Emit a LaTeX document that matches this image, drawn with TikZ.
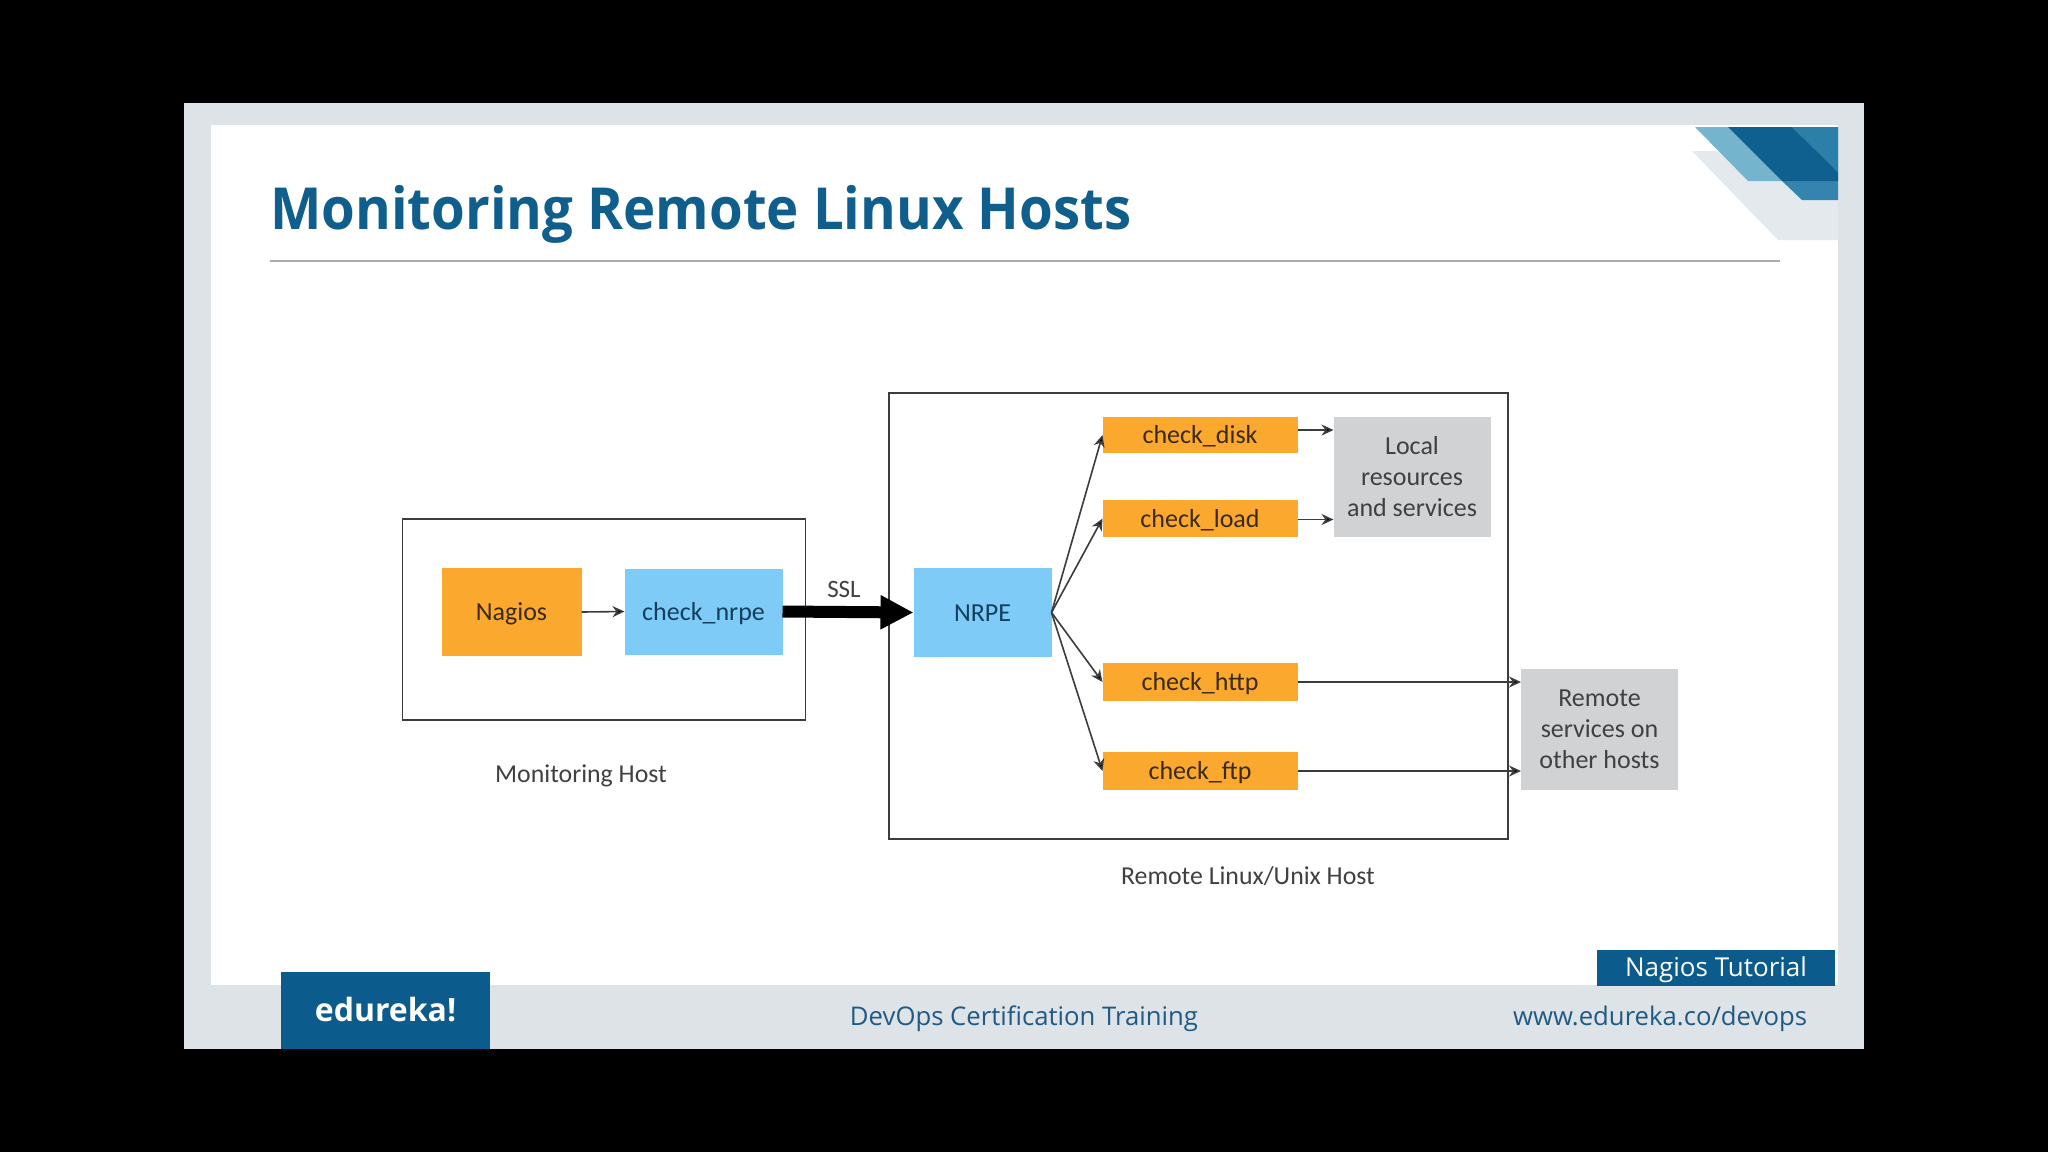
\documentclass[tikz,border=0pt]{standalone}
\usepackage{fontspec}
\setmainfont{Carlito}
\newfontfamily\headfont{Open Sans}
\usetikzlibrary{arrows.meta}
\definecolor{frameC}{HTML}{DDE3E6}
\definecolor{navy}{HTML}{0B5B8C}
\definecolor{titleC}{HTML}{0F5E8C}
\definecolor{orangeB}{HTML}{FBA82F}
\definecolor{blueB}{HTML}{7FCBF7}
\definecolor{greyB}{HTML}{D0D2D4}
\definecolor{lineC}{HTML}{3C3C3C}
\definecolor{footC}{HTML}{1F5A84}
\definecolor{ruleC}{HTML}{ABABAB}
\definecolor{cornA}{HTML}{E4E9EE}
\definecolor{cornB}{HTML}{74B4CC}
\definecolor{cornC}{HTML}{3584B0}
\definecolor{cornD}{HTML}{10608F}
\definecolor{cornE}{HTML}{2C7FA8}
\definecolor{orangeT}{HTML}{3A2A12}
\definecolor{blueT}{HTML}{123F5F}
\tikzset{
  blk/.style={rectangle,inner sep=0pt,outer sep=0pt,align=center,font=\fontsize{13}{15.5}\selectfont},
  one line/.style={text height=8.5pt,text depth=0pt},
  orange box/.style={blk,one line,fill=orangeB,text=orangeT,minimum width=97.5pt},
  blue box/.style={blk,one line,fill=blueB,text=blueT},
  grey box/.style={blk,fill=greyB,text=black!75,minimum width=78.5pt},
  host/.style={rectangle,draw=lineC,line width=0.9pt,inner sep=0pt,outer sep=0pt},
  label/.style={inner sep=0pt,font=\fontsize{12.9}{15}\selectfont,text=black!75},
  conn/.style={draw=lineC,line width=0.8pt,-{Stealth[length=6pt,width=5.5pt,fill=black]}},
  foot/.style={inner sep=0pt,font=\headfont\fontsize{12.85}{15}\selectfont},
}
\begin{document}
\begin{tikzpicture}[x=.5pt,y=-.5pt]
\useasboundingbox (0,0) rectangle (2048,1152);
\fill[black] (0,0) rectangle (2048,1152);
% slide
\fill[frameC] (184,103) rectangle (1864,1049);
\fill[white] (211,125) rectangle (1838,985);
% corner decoration
\fill[cornA] (1692,151) -- (1778,240) -- (1838,240) -- (1838,151) -- cycle;
\fill[cornB] (1695,127) -- (1748,181) -- (1838,181) -- (1838,127) -- cycle;
\fill[cornC] (1782,181) -- (1802,200) -- (1838,200) -- (1838,181) -- cycle;
\fill[cornD] (1728,127) -- (1782,181) -- (1838,181) -- (1838,172) -- (1792,127) -- cycle;
\fill[cornE] (1792,127) -- (1838,172) -- (1838,127) -- cycle;
% title
\node[anchor=base west,inner sep=0pt,text=titleC,xscale=0.94,transform shape,font=\headfont\bfseries\fontsize{29}{34}\selectfont] (title) at (270,229) {Monitoring Remote Linux Hosts};
\coordinate (ruleA) at (270,261);
\coordinate (ruleB) at (1780,261);
\draw[ruleC,line width=1pt] (ruleA) -- (ruleB);
% hosts
\node[host,minimum width=201.5pt,minimum height=100.5pt] (mon) at (604,619.5) {};
\node[host,minimum width=309.5pt,minimum height=223pt] (rem) at (1198.5,616) {};
\node[label] (monlab) at (581,776) {Monitoring Host};
\node[label] (remlab) at (1248,876) {Remote Linux/Unix Host};
% boxes
\node[orange box,minimum width=70pt,minimum height=44pt] (nagios) at (511.5,612) {Nagios};
\node[blue box,minimum width=79pt,minimum height=43pt] (nrpe) at (703.5,611.5) {check\_nrpe};
\node[blue box,minimum width=69pt,minimum height=44.5pt] (NRPE) at (982.5,612.5) {NRPE};
\node[orange box,minimum height=18pt] (disk) at (1200,435) {check\_disk};
\node[orange box,minimum height=18.5pt] (load) at (1200,518.5) {check\_load};
\node[orange box,minimum height=19pt] (http) at (1200,682) {check\_http};
\node[orange box,minimum height=19pt] (ftp) at (1200,771) {check\_ftp};
\node[grey box,minimum height=60pt] (local) at (1412,477) {Local\\resources\\and services};
\node[grey box,minimum height=60.5pt] (rsvc) at (1599.5,729.5) {Remote\\services on\\other hosts};
\node[label,font=\fontsize{12.5}{15}\selectfont] (ssl) at (844,589) {SSL};
% connectors
\draw[conn] (nagios.east) -- (nrpe.west);
\draw[black,line width=6pt,-{Triangle[length=16.5pt,width=16pt]}] (nrpe.east) -- (NRPE.west);
\draw[conn] (NRPE.east) -- (disk.west);
\draw[conn] (NRPE.east) -- (load.west);
\draw[conn] (NRPE.east) -- (http.west);
\draw[conn] (NRPE.east) -- (ftp.west);
\draw[conn] ([yshift=2.5pt]disk.east) -- ([yshift=2.5pt]disk.east -| local.west);
\draw[conn] ([yshift=-.5pt]load.east) -- ([yshift=-.5pt]load.east -| local.west);
\draw[conn] (http.east) -- (http.east -| rsvc.west);
\draw[conn] (ftp.east) -- (ftp.east -| rsvc.west);
% footer
\node[rectangle,fill=navy,minimum width=104.5pt,minimum height=38.5pt,inner sep=0pt] (logo) at (385.5,1010.5) {};
\node[inner sep=0pt,text=white,font=\headfont\bfseries\fontsize{16}{18}\selectfont] (logot) at (385.5,1010) {edureka!};
\node[rectangle,fill=navy,minimum width=119pt,minimum height=18pt,inner sep=0pt] (tut) at (1716,968) {};
\node[foot,text=white,font=\headfont\fontsize{13}{15}\selectfont] (tutt) at (1716,970) {Nagios Tutorial};
\node[foot,text=footC] (dev) at (1024,1019) {DevOps Certification Training};
\node[foot,text=footC] (web) at (1660,1019) {www.edureka.co/devops};
\end{tikzpicture}
\end{document}
